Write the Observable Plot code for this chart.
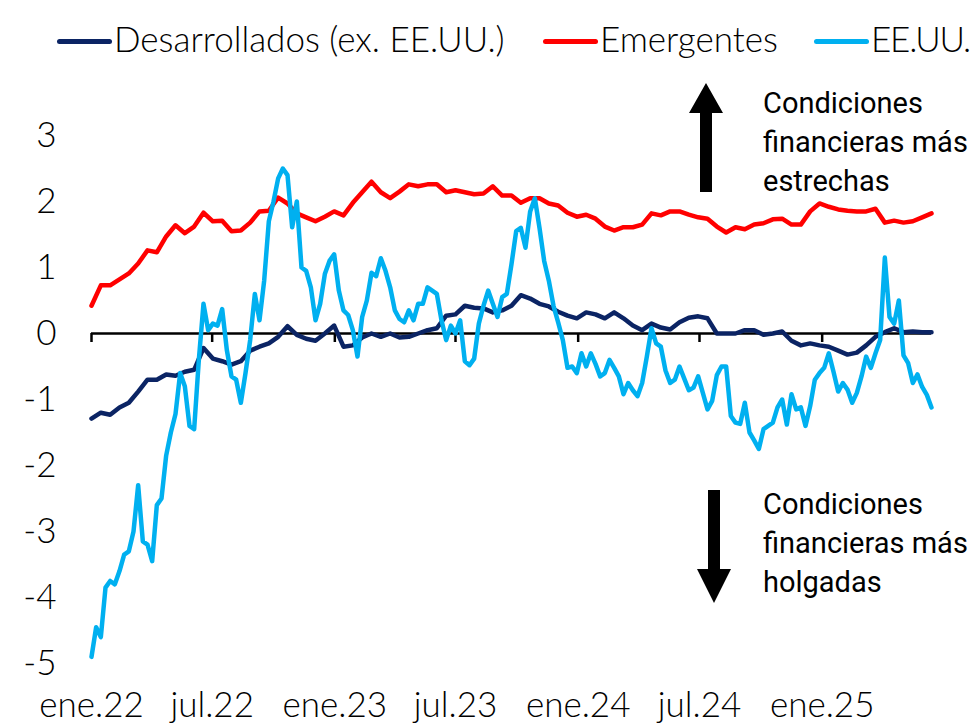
<!DOCTYPE html>
<html><head><meta charset="utf-8">
<script src="https://cdn.jsdelivr.net/npm/d3@7"></script>
<script src="https://cdn.jsdelivr.net/npm/@observablehq/plot@0.6"></script>
<style>
body{margin:0;background:#fff;}
#wrap{position:relative;width:972px;height:724px;overflow:hidden;font-family:Lato,sans-serif;font-weight:300;color:#000;}
#legend{position:absolute;left:0;top:0;width:972px;height:70px;}
.item{position:absolute;top:17px;font-size:35px;line-height:42px;white-space:nowrap;}
.item.last{letter-spacing:-1.2px;}
.sw{display:inline-block;width:55px;height:5px;border-radius:3px;vertical-align:middle;margin-right:2px;position:relative;top:-2px;}
#chart{position:absolute;left:0;top:70px;}
.note{position:absolute;font-family:Roboto,sans-serif;font-weight:400;font-size:29px;line-height:39px;white-space:nowrap;}
#arrows{position:absolute;left:0;top:0;pointer-events:none;}
</style></head><body>
<div id="wrap">
  <div id="legend"></div>
  <div id="chart"></div>
  <div class="note" style="left:763px;top:84px">Condiciones<br>financieras más<br>estrechas</div>
  <div class="note" style="left:763px;top:485px">Condiciones<br>financieras más<br>holgadas</div>
  <svg id="arrows" width="972" height="724">
    <polygon points="706,83 723,113 712,113 712,192 700,192 700,113 689,113" fill="#000"/>
    <polygon points="714,603 731,569 720,569 720,490 708,490 708,569 697,569" fill="#000"/>
  </svg>
</div>
<script>
// ---- data ----
const seriesNames = ["Desarrollados (ex. EE.UU.)", "Emergentes", "EE.UU."];
const seriesColors = ["#0B2464", "#FF0000", "#00B0F0"];
const startDate = "2022-01-01";
const biweeklyStepDays = 14;
const weeklyStepDays = 7;

const desarrollados = [-1.29,-1.20,-1.23,-1.12,-1.05,-0.88,-0.70,-0.70,-0.62,-0.64,
 -0.58,-0.55,-0.22,-0.38,-0.42,-0.47,-0.42,-0.26,-0.20,-0.15,
 -0.05,0.11,-0.02,-0.08,-0.11,0.0,0.12,-0.20,-0.18,-0.06,
 0.0,-0.05,0.0,-0.06,-0.05,0.0,0.05,0.08,0.27,0.29,
 0.42,0.39,0.38,0.32,0.35,0.42,0.58,0.53,0.45,0.41,
 0.33,0.27,0.23,0.32,0.29,0.23,0.32,0.23,0.12,0.05,
 0.15,0.09,0.06,0.17,0.24,0.26,0.23,0.0,0.0,0.0,
 0.05,0.05,-0.02,0.0,0.03,-0.11,-0.18,-0.15,-0.18,-0.20,
 -0.26,-0.32,-0.29,-0.18,-0.05,0.02,0.08,0.02,0.03,0.02,
 0.02];

const emergentes = [0.42,0.73,0.73,0.82,0.91,1.06,1.26,1.23,1.47,1.64,
 1.52,1.62,1.83,1.70,1.71,1.55,1.56,1.68,1.85,1.86,
 2.06,1.97,1.82,1.76,1.70,1.77,1.85,1.79,1.98,2.14,
 2.30,2.14,2.05,2.15,2.26,2.23,2.26,2.26,2.14,2.17,
 2.14,2.11,2.12,2.23,2.09,2.09,1.98,2.05,2.05,1.97,
 1.94,1.83,1.77,1.80,1.74,1.62,1.56,1.61,1.61,1.65,
 1.82,1.79,1.85,1.85,1.80,1.76,1.74,1.62,1.53,1.61,
 1.58,1.65,1.67,1.73,1.74,1.65,1.65,1.85,1.97,1.92,
 1.88,1.86,1.85,1.85,1.89,1.68,1.71,1.68,1.70,1.76,
 1.82];

const eeuu = [-4.9,-4.45,-4.6,-3.85,-3.75,-3.8,-3.6,-3.35,-3.3,-3.0,
 -2.3,-3.15,-3.2,-3.45,-2.6,-2.5,-1.85,-1.5,-1.22,-0.6,
 -0.8,-1.4,-1.45,-0.4,0.45,0.05,0.15,0.12,0.37,-0.25,
 -0.65,-0.7,-1.05,-0.6,-0.1,0.6,0.2,0.8,1.7,2.0,
 2.35,2.5,2.4,1.61,2.0,1.0,0.95,0.7,0.2,0.45,
 0.9,1.1,1.2,0.65,0.35,0.28,0.05,-0.35,0.25,0.5,
 0.92,0.87,1.14,0.95,0.7,0.35,0.22,0.17,0.35,0.2,
 0.45,0.45,0.7,0.65,0.6,0.2,-0.1,0.12,0.0,0.2,
 -0.42,-0.48,-0.38,0.15,0.42,0.65,0.45,0.25,0.55,0.6,
 1.05,1.55,1.6,1.3,1.85,2.05,1.6,1.1,0.8,0.42,
 0.17,-0.1,-0.52,-0.5,-0.6,-0.3,-0.5,-0.3,-0.46,-0.65,
 -0.6,-0.4,-0.52,-0.65,-0.92,-0.75,-0.86,-0.95,-0.75,-0.35,
 0.08,-0.15,-0.2,-0.56,-0.75,-0.7,-0.5,-0.68,-0.86,-0.82,
 -0.65,-0.9,-1.15,-1.02,-0.63,-0.5,-0.5,-1.25,-1.35,-1.37,
 -1.05,-1.5,-1.62,-1.75,-1.45,-1.4,-1.35,-1.12,-1.0,-1.38,
 -0.92,-1.15,-1.12,-1.4,-1.1,-0.7,-0.6,-0.52,-0.3,-0.58,
 -0.88,-0.75,-0.85,-1.05,-0.9,-0.65,-0.35,-0.52,-0.3,-0.1,
 1.15,0.25,0.15,0.5,-0.33,-0.45,-0.75,-0.62,-0.81,-0.93,
 -1.12];

const xTickDates = ["2022-01-01","2022-07-01","2023-01-01","2023-07-01","2024-01-01","2024-07-01","2025-01-01"];
const xTickLabels = ["ene.22","jul.22","ene.23","jul.23","ene.24","jul.24","ene.25"];
const yTicks = [-5,-4,-3,-2,-1,0,1,2,3];
const xEnd = "2025-06-14";

// ---- build table ----
const t0 = new Date(startDate + "T00:00:00Z");
function toRows(values, step, name) {
  return values.map((v, i) => ({date: d3.utcDay.offset(t0, step * i), value: v, serie: name}));
}
const rows = [
  ...toRows(desarrollados, biweeklyStepDays, seriesNames[0]),
  ...toRows(emergentes, biweeklyStepDays, seriesNames[1]),
  ...toRows(eeuu, weeklyStepDays, seriesNames[2])
];
const ticks = xTickDates.map(s => new Date(s + "T00:00:00Z"));
const labelOf = new Map(ticks.map((d, i) => [+d, xTickLabels[i]]));

const chart = Plot.plot({
  width: 972,
  height: 654,
  marginLeft: 91,
  marginRight: 41,
  marginTop: 65,
  marginBottom: 61,
  style: {fontFamily: "Lato, sans-serif", fontWeight: 300, fontSize: "35px", color: "#000", background: "transparent", overflow: "visible"},
  x: {type: "utc", domain: [t0, new Date(xEnd + "T00:00:00Z")]},
  y: {domain: [-5, 3]},
  color: {domain: seriesNames, range: seriesColors},
  marks: [
    Plot.axisY({ticks: yTicks, tickSize: 0, tickPadding: 35, tickFormat: d => String(d), label: null}),
    Plot.axisX({ticks: ticks, tickSize: 0, tickPadding: 29, tickFormat: d => labelOf.get(+d), label: null}),
    Plot.ruleY([0], {stroke: "#000", strokeWidth: 2.5}),
    Plot.ruleX(ticks, {x: d => d, y1: 0, y2: 0, insetBottom: -9, stroke: "#000", strokeWidth: 2.5}),
    Plot.line(rows, {x: "date", y: "value", z: "serie", stroke: "serie", strokeWidth: 4.5, strokeLinejoin: "round", strokeLinecap: "round"})
  ]
});
document.getElementById("chart").appendChild(chart);

// legend
const legendLefts = [57, 543, 814];
const legend = document.getElementById("legend");
seriesNames.forEach((n, i) => {
  const it = document.createElement("div");
  it.className = "item" + (i === seriesNames.length - 1 ? " last" : "");
  it.style.left = legendLefts[i] + "px";
  const sw = document.createElement("span");
  sw.className = "sw";
  sw.style.background = seriesColors[i];
  it.appendChild(sw);
  it.appendChild(document.createTextNode(n));
  legend.appendChild(it);
});
</script>
</body></html>
